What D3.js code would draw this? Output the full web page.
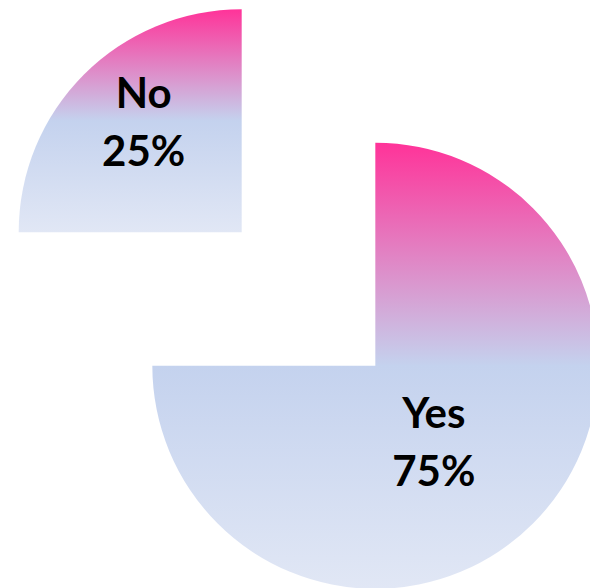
<!DOCTYPE html>
<html>
<head>
<meta charset="utf-8">
<script src="https://cdn.jsdelivr.net/npm/d3@7"></script>
<style>
  html, body { margin: 0; padding: 0; background: #ffffff; }
  svg { display: block; }
</style>
</head>
<body>
<svg id="chart" width="590" height="588"></svg>
<script>
// Survey answers and their shares (percent)
const categories = ["Yes", "No"];
const values = [75, 25];
const valueLabels = ["75%", "25%"];

const width = 590, height = 588;
const radius = 223;
const pieCenter = [308.5, 299];
const explode = 94.5;           // distance each slice is pulled out
// label block centre, relative to the slice's own corner point
const labelOffsets = { Yes: [58.5, 77.5], No: [-98, -109] };

const svg = d3.select("#chart");
const defs = svg.append("defs");

// vertical fill: pink at the top, soft blue in the middle, pale blue at the bottom
const grad = defs.append("linearGradient")
  .attr("id", "sliceFill")
  .attr("x1", 0).attr("y1", 0).attr("x2", 0).attr("y2", 1);
grad.append("stop").attr("offset", "0%").attr("stop-color", "#ff3399");
grad.append("stop").attr("offset", "50%").attr("stop-color", "#c4d2ee");
grad.append("stop").attr("offset", "100%").attr("stop-color", "#e1e7f5");

const data = categories.map((c, i) => ({ category: c, value: values[i], label: valueLabels[i] }));

const pie = d3.pie().sort(null).value(d => d.value);
const arc = d3.arc().innerRadius(0).outerRadius(radius);
const arcs = pie(data);

const slices = svg.selectAll("g.slice")
  .data(arcs)
  .join("g")
  .attr("class", "slice")
  .attr("transform", d => {
    const mid = (d.startAngle + d.endAngle) / 2;
    const x = pieCenter[0] + explode * Math.sin(mid);
    const y = pieCenter[1] - explode * Math.cos(mid);
    return `translate(${x},${y})`;
  });

slices.append("path")
  .attr("d", arc)
  .attr("fill", "url(#sliceFill)");

const text = slices.append("text")
  .attr("text-anchor", "middle")
  .attr("font-family", "Lato, 'Open Sans', sans-serif")
  .attr("font-weight", 700)
  .attr("font-size", 42)
  .attr("fill", "#000000")
  .attr("transform", d => {
    const o = labelOffsets[d.data.category];
    return `translate(${o[0]},${o[1]})`;
  });

text.append("tspan").attr("x", 0).attr("y", -15).text(d => d.data.category);
text.append("tspan").attr("x", 0).attr("y", 43).text(d => d.data.label);
</script>
</body>
</html>
